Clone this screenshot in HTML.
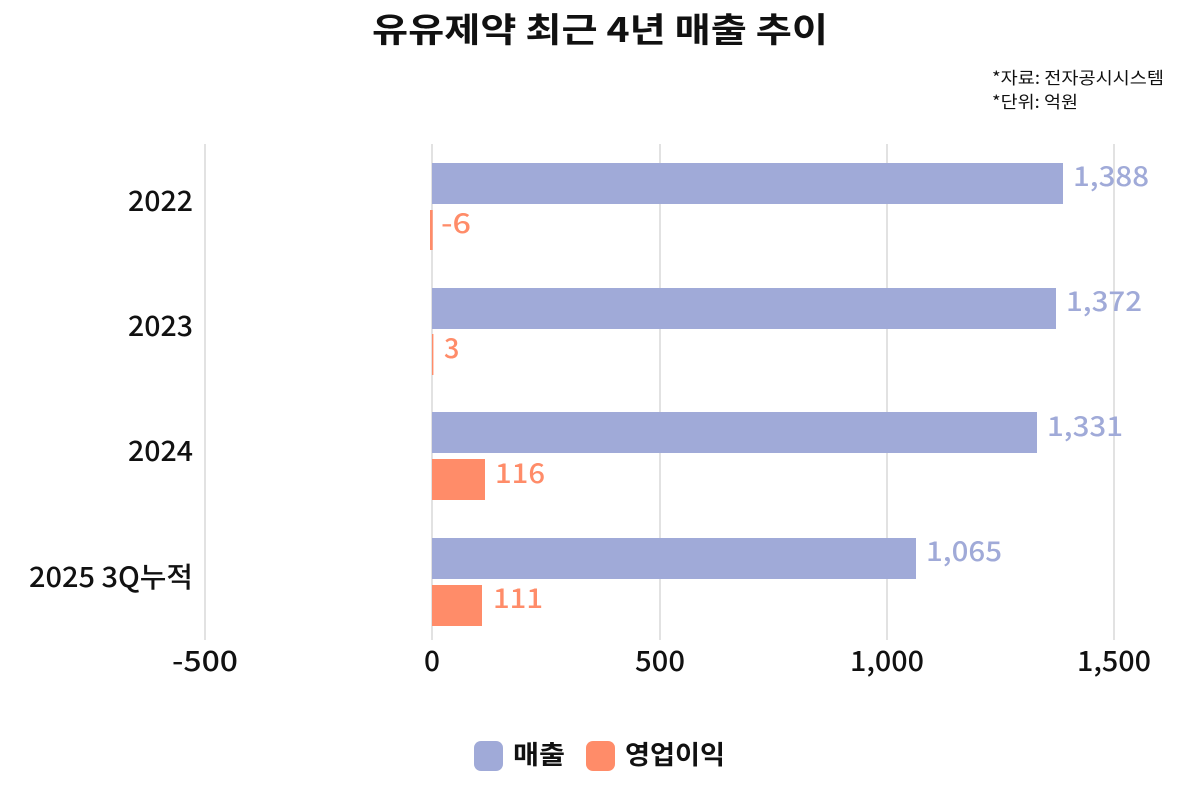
<!DOCTYPE html>
<html><head><meta charset="utf-8"><style>
html,body{margin:0;padding:0;background:#fff;}
svg{display:block;font-family:"Liberation Sans","Noto Sans CJK KR",sans-serif;}
</style></head><body>
<svg width="1200" height="800" viewBox="0 0 1200 800" xmlns="http://www.w3.org/2000/svg">
<rect width="1200" height="800" fill="#fff"/>
<text x="600" y="42" text-anchor="middle" font-size="34" font-weight="bold" fill="#111" font-family="Noto Sans CJK KR, sans-serif" textLength="456" lengthAdjust="spacingAndGlyphs">유유제약  최근 4년 매출 추이</text>
<text x="992" y="84" font-size="17" fill="#111" font-family="Noto Sans CJK KR, sans-serif" textLength="172" lengthAdjust="spacingAndGlyphs">*자료: 전자공시시스템</text>
<text x="992" y="108" font-size="17" fill="#111" font-family="Noto Sans CJK KR, sans-serif" textLength="86" lengthAdjust="spacingAndGlyphs">*단위: 억원</text>
<g stroke="#d8d8d8" stroke-width="1.5">
<line x1="205" y1="144" x2="205" y2="640"/><line x1="432" y1="144" x2="432" y2="640"/>
<line x1="660" y1="144" x2="660" y2="640"/><line x1="887" y1="144" x2="887" y2="640"/>
<line x1="1114" y1="144" x2="1114" y2="640"/>
</g>
<g fill="#a0aad8">
<rect x="432" y="163" width="631" height="41"/>
<rect x="432" y="288" width="624" height="41"/>
<rect x="432" y="412" width="605" height="41"/>
<rect x="432" y="538" width="484" height="41"/>
</g>
<g fill="#ff8c69">
<rect x="430" y="210" width="2.7" height="40"/>
<rect x="432" y="334" width="1.4" height="41"/>
<rect x="432" y="459" width="53" height="41"/>
<rect x="432" y="585" width="50" height="41"/>
</g>
<g font-size="27" font-weight="500" fill="#a0aad8" font-family="Noto Sans CJK KR, sans-serif">
<text x="1073" y="186" textLength="76" lengthAdjust="spacingAndGlyphs">1,388</text>
<text x="1066" y="311" textLength="76" lengthAdjust="spacingAndGlyphs">1,372</text>
<text x="1047" y="436" textLength="76" lengthAdjust="spacingAndGlyphs">1,331</text>
<text x="926" y="561" textLength="76" lengthAdjust="spacingAndGlyphs">1,065</text>
</g>
<g font-size="27" font-weight="500" fill="#ff8c69" font-family="Noto Sans CJK KR, sans-serif">
<text x="441" y="233" textLength="30" lengthAdjust="spacingAndGlyphs">-6</text>
<text x="444" y="358">3</text>
<text x="495" y="483" textLength="50" lengthAdjust="spacingAndGlyphs">116</text>
<text x="493" y="608" textLength="50" lengthAdjust="spacingAndGlyphs">111</text>
</g>
<g font-size="28" font-weight="500" fill="#111" text-anchor="end" font-family="Noto Sans CJK KR, sans-serif">
<text x="193" y="211" textLength="65" lengthAdjust="spacingAndGlyphs">2022</text>
<text x="193" y="336" textLength="65" lengthAdjust="spacingAndGlyphs">2023</text>
<text x="193" y="461" textLength="65" lengthAdjust="spacingAndGlyphs">2024</text>
<text x="193" y="587" textLength="164" lengthAdjust="spacingAndGlyphs">2025 3Q누적</text>
</g>
<g font-size="28" font-weight="500" fill="#111" text-anchor="middle" font-family="Noto Sans CJK KR, sans-serif">
<text x="205" y="671" textLength="66" lengthAdjust="spacingAndGlyphs">-500</text>
<text x="432" y="671">0</text>
<text x="660" y="671" textLength="50" lengthAdjust="spacingAndGlyphs">500</text>
<text x="887" y="671" textLength="74" lengthAdjust="spacingAndGlyphs">1,000</text>
<text x="1114" y="671" textLength="74" lengthAdjust="spacingAndGlyphs">1,500</text>
</g>
<rect x="474" y="741" width="29" height="30" rx="7" fill="#a0aad8"/>
<text x="513" y="764" font-size="26" font-weight="bold" fill="#111" font-family="Noto Sans CJK KR, sans-serif" textLength="52" lengthAdjust="spacingAndGlyphs">매출</text>
<rect x="586" y="741" width="29" height="30" rx="7" fill="#ff8c69"/>
<text x="625" y="764" font-size="26" font-weight="bold" fill="#111" font-family="Noto Sans CJK KR, sans-serif" textLength="100" lengthAdjust="spacingAndGlyphs">영업이익</text>
</svg>
</body></html>
